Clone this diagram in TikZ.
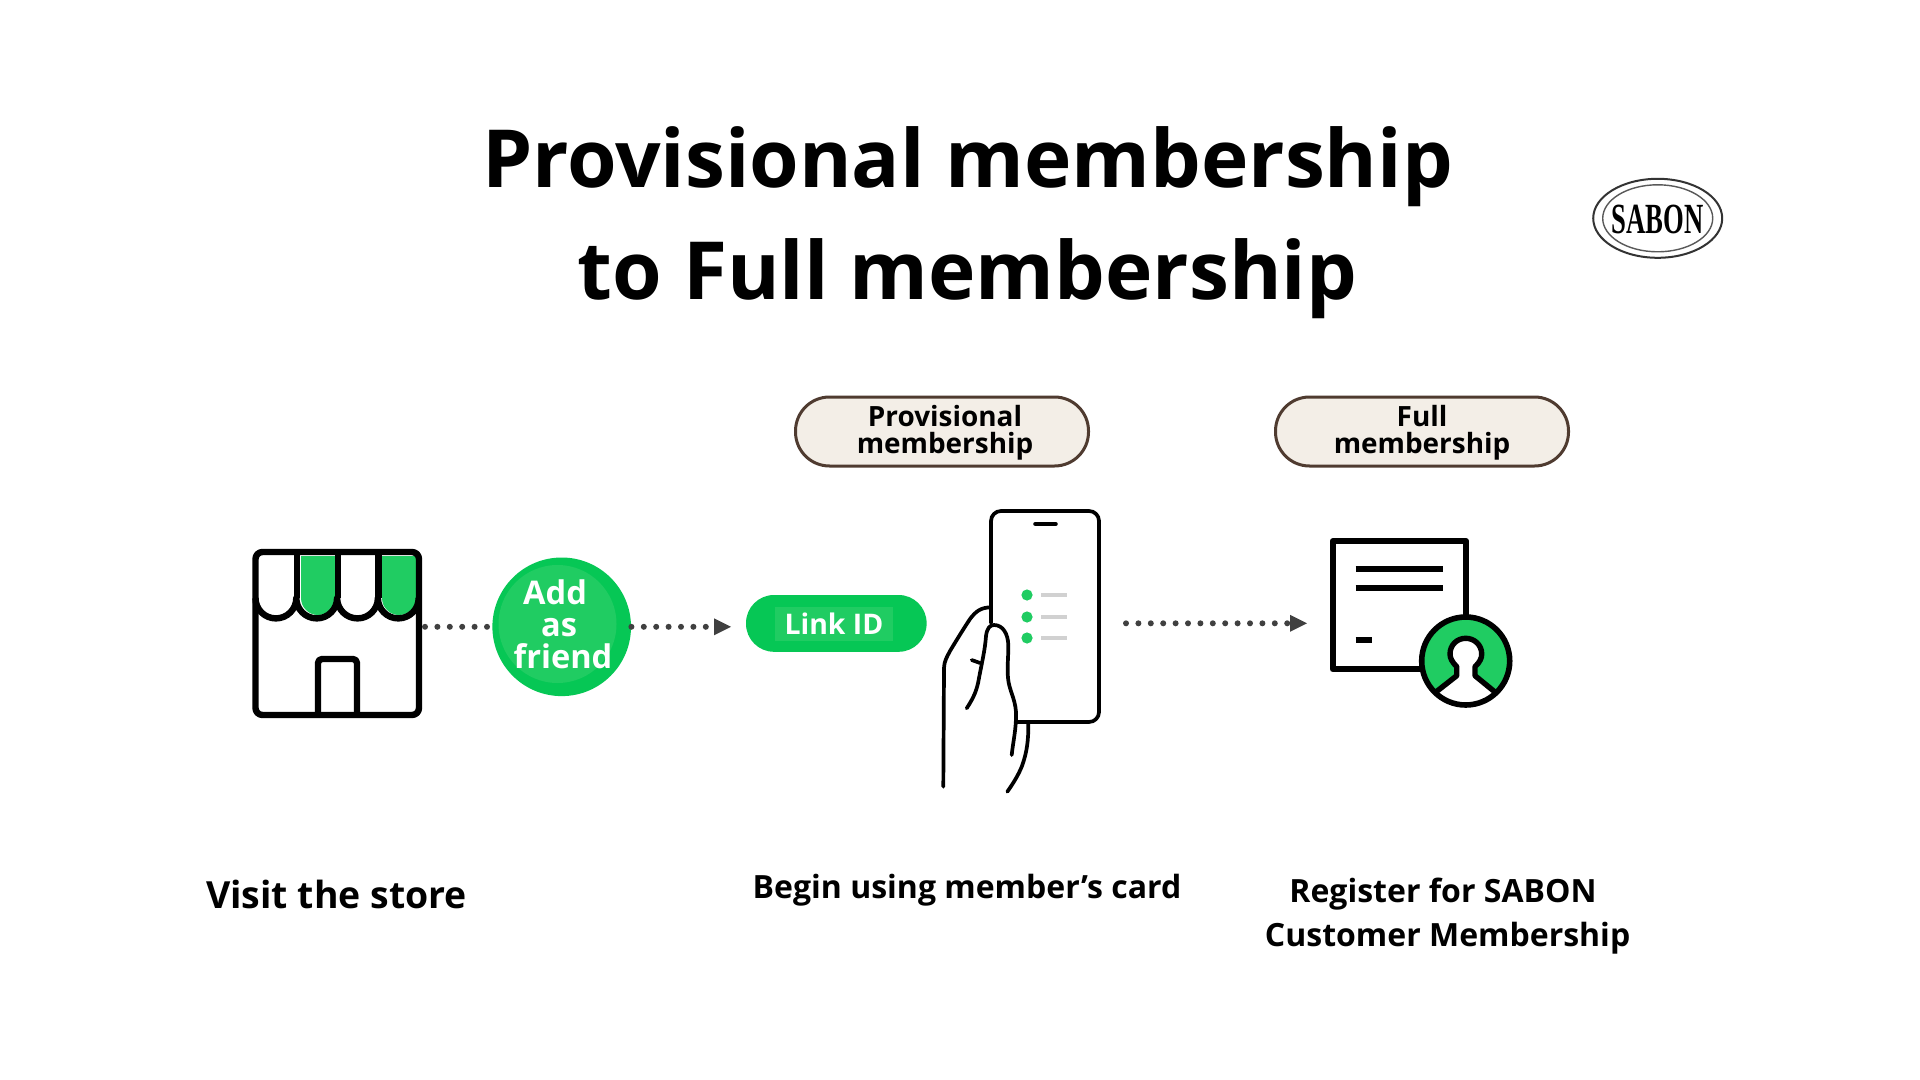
\documentclass[tikz,border=0pt]{standalone}
\usepackage{fontspec}
\setmainfont{Open Sans}
\newfontfamily\logofont{Liberation Serif}
\usetikzlibrary{arrows.meta,calc}
\definecolor{gfill}{HTML}{20CC62}
\definecolor{gedge}{HTML}{06C755}
\definecolor{beige}{HTML}{F3EEE7}
\definecolor{brownl}{HTML}{4F3B30}
\definecolor{dotc}{HTML}{404040}
\newcommand{\fs}[2]{\fontsize{#1}{#2}\selectfont\bfseries}
\tikzset{
 x=0.5pt,y=-0.5pt,
 icon/.style={draw=black,line width=3.2pt,line join=round},
 certline/.style={draw=black,line width=2.9pt},
 thinicon/.style={draw=black,line width=1.85pt,line cap=round,line join=round},
 dotlink/.style={draw=dotc,line width=3pt,line cap=round,dash pattern=on 0pt off 6.2pt,
   -{Triangle[length=8.5pt,width=8.5pt,fill=dotc,line width=0pt]}},
 dotplain/.style={draw=dotc,line width=3pt,line cap=round,dash pattern=on 0pt off 6.2pt},
 badge/.style={draw=brownl,line width=1.5pt,fill=beige,rounded corners=17pt,minimum width=146.5pt,minimum height=34.5pt,inner sep=0pt},
 capt/.style={align=center,inner sep=0pt,text=black},
 badgetext/.style={capt,font=\fs{13.95}{13.4}},
 friendtext/.style={inner sep=0pt,text=white,font=\fs{16.3}{16.3},anchor=base},
}
\begin{document}
\begin{tikzpicture}
\useasboundingbox (0,0) rectangle (1920,1080);
\fill[white] (0,0) rectangle (1920,1080);
% title
\node[capt,font=\fs{40.1}{56}] (title) at (967.5,222.5) {Provisional membership\\to Full membership};
% logo
\draw[black!80,line width=1pt] (1657.7,218.3) ellipse (64.5 and 39.5);
\draw[black!65,line width=0.7pt] (1657.7,218.3) ellipse (55 and 33.5);
\node[inner sep=0pt,xscale=0.62,font=\logofont\bfseries\fontsize{21.5}{21.5}\selectfont] (logo) at (1657.7,219) {SABON};
% badges
\node[badge] (bp) at (942,431.5) {};
\node[badge] (bf) at (1422,431.5) {};
\node[badgetext] (bpt) at (945,433) {Provisional\\membership};
\node[badgetext] (bft) at (1422,433) {Full\\membership};
% store
\fill[gfill] (301,556) -- (335,556) -- (335,598) arc (0:180:17 and 17) -- cycle;
\fill[gfill] (382,556) -- (416,556) -- (416,598) arc (0:180:17 and 17) -- cycle;
\draw[icon,rounded corners=3.5pt] (255.5,552) rectangle (419,715);
\draw[icon] (255.5,598) arc (180:0:20.4) arc (180:0:20.4) arc (180:0:20.4) arc (180:0:20.4);
\draw[icon] (297,552) -- (297,598) (338,552) -- (338,598) (378.5,552) -- (378.5,598);
\draw[icon,rounded corners=2pt] (318,715) -- (318,659) -- (357,659) -- (357,715);
\coordinate (storeE) at (425,626.8);
% friend
\node[circle,fill=gedge,minimum size=69.3pt,inner sep=0pt] (friend) at (561.7,626.8) {};
\fill[gfill] (557.5,624) circle (59);
\node[friendtext] (f1) at (555,604) {Add};
\node[friendtext] (f2) at (559,636) {as};
\node[friendtext] (f3) at (563,668) {friend};
% link
\node[fill=gedge,rounded corners=14pt,minimum width=90.3pt,minimum height=28.4pt,inner sep=0pt] (link) at (836.3,623.4) {};
\fill[gfill] (775,607.3) rectangle (892.7,641);
\node[inner sep=0pt,text=white,font=\fs{14.2}{14.2}] (linkt) at (834,624) {Link ID};
% connectors
\coordinate (linkW) at (731,626.8);
\draw[dotplain] (storeE) -- (friend.west);
\draw[dotlink] (friend.east) -- (linkW);
% phone
\draw[thinicon] (991,623) -- (991,521) arc (180:270:10) -- (1089,511) arc (270:360:10) -- (1099,712) arc (0:90:10) -- (1017,722);
\draw[thinicon,line width=2.3pt] (1035.5,524) -- (1055.5,524);
\foreach \yy in {595,617,638}{
 \fill[gfill] (1027,\yy) circle (5.6);
 \draw[black!18,line width=1.7pt] (1041,\yy) -- (1067,\yy);
}
\draw[thinicon] (943.3,786.7) -- (944,668) .. controls (944.5,660) and (947,657) .. (950,651)
  .. controls (956,641) and (964,628) .. (970,619) .. controls (976,611) and (981,607.5) .. (991,607.3);
\draw[thinicon] (966.7,708.3) .. controls (974,697) and (977,690) .. (979,678) .. controls (982,662) and (985,650) .. (986,636)
  .. controls (987,628) and (990,625) .. (994,625) .. controls (1003,625) and (1008,634) .. (1008.3,645)
  .. controls (1008.5,655) and (1007,668) .. (1008,678) .. controls (1009,690) and (1015,698) .. (1016,712)
  .. controls (1016.5,728) and (1013,742) .. (1011.7,755);
\draw[thinicon] (971.7,660) -- (980,663);
\draw[thinicon] (1028.3,723.3) .. controls (1028.5,740) and (1027,752) .. (1022,766) .. controls (1018,776) and (1012,785) .. (1007.3,791.7);
\coordinate (phoneE) at (1126,623.3);
% certificate
\coordinate (certW) at (1307,623.3);
\draw[dotlink] (phoneE) -- (certW);
\draw[certline,line join=round] (1420,669.3) -- (1332.7,669.3) -- (1332.7,541) -- (1466,541) -- (1466,620);
\draw[certline] (1355.7,569.3) -- (1443,569.3) (1355.7,588.3) -- (1443,588.3) (1355.7,640.3) -- (1371.7,640.3);
\fill[gfill] (1465.7,661) circle (44);
\begin{scope}
\clip (1465.7,661) circle (44);
\path[fill=white,draw=black,line width=2.7pt,line join=round]
 (1434,693.5) -- (1456.7,675.7) -- (1456.7,666.7) .. controls (1452,662) and (1450,658) .. (1450,654)
 .. controls (1450,645) and (1457,638.3) .. (1465.7,638.3) .. controls (1474.4,638.3) and (1481.7,645) .. (1481.7,654)
 .. controls (1481.7,658) and (1480,662) .. (1475,666.7) -- (1475,675.7) -- (1498,694.5) -- (1510,720) -- (1420,720) -- cycle;
\end{scope}
\draw[black,line width=2.8pt] (1465.7,661) circle (44);
% captions
\node[capt,font=\fs{18.7}{18.7}] (c1) at (336.5,894) {Visit the store};
\node[capt,font=\fs{16}{16}] (c2) at (967,890) {Begin using member’s card};
\node[capt,font=\fs{16}{16}] (c3a) at (1443,894) {Register for SABON};
\node[capt,font=\fs{16}{16}] (c3b) at (1447.6,938) {Customer Membership};
\end{tikzpicture}
\end{document}
